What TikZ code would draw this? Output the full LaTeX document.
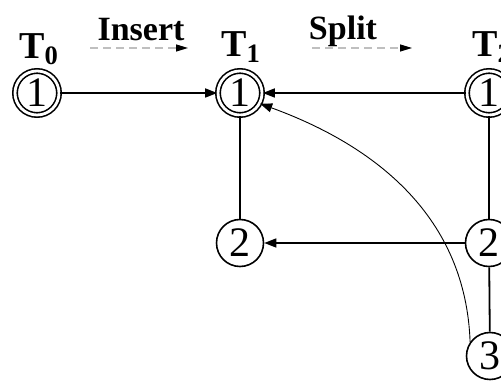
\documentclass[tikz,border=0pt]{standalone}
\usepackage{fontspec}
\setmainfont{Liberation Serif}
\usetikzlibrary{arrows.meta,positioning,calc}

\begin{document}
\begin{tikzpicture}[
  x=0.5pt,
  y=-0.5pt,
  >={Triangle[length=6pt,width=4.5pt]},
  flow/.style={->,line width=.75pt},
  link/.style={line width=.9pt},
  opstep/.style={-{Triangle[length=6pt,width=3.5pt,color=black]},dashed,draw=gray!50,line width=.6pt,dash pattern=on 4pt off 2.5pt},
  key/.style={circle,draw,line width=.8pt,minimum size=23.5pt,inner sep=0pt,font=\fontsize{21}{21}\selectfont},
  root/.style={key,double,double distance=1.4pt,minimum size=22pt},
  treelabel/.style={font=\fontsize{19}{19}\selectfont\bfseries},
  oplabel/.style={font=\fontsize{17}{17}\selectfont\bfseries}
]
\clip (0,0) rectangle (501,383);
\useasboundingbox (0,0) rectangle (501,383);

\node[root] (t0a) at (37,93) {1};
\node[root] (t1a) at (240,93) {1};
\node[root] (t2a) at (489,93) {1};
\node[key] (t2b) at (489,243) {2};
\node[key] (t1b) at (240,243) {2};
\node[key] (t2c) at (490,356) {3};

\node[treelabel] (t0) at (39,49) {T\textsubscript{0}};
\node[treelabel] (t1) at (241,47) {T\textsubscript{1}};
\node[treelabel] (t2) at (492,47) {T\textsubscript{2}};

\node[oplabel] (insert) at (141,30) {Insert};
\node[oplabel] (split) at (343,31) {Split};
\coordinate (ins0) at (90,48);
\coordinate (ins1) at (188,48);
\coordinate (spl0) at (312,48);
\coordinate (spl1) at (412,48);

\draw[opstep] (ins0) -- (ins1);
\draw[opstep] (spl0) -- (spl1);

\draw[link] (t1a) -- (t1b);
\draw[link] (t2a) -- (t2b);
\draw[link] (t2b) -- (t2c);

\draw[flow] (t0a) -- (t1a);
\draw[flow] (t2a) -- (t1a);
\draw[flow] (t2b) -- (t1b);
\draw[flow,line width=.45pt] (t2c.145) to[out=92,in=-20] (t1a.-28);

\end{tikzpicture}
\end{document}
